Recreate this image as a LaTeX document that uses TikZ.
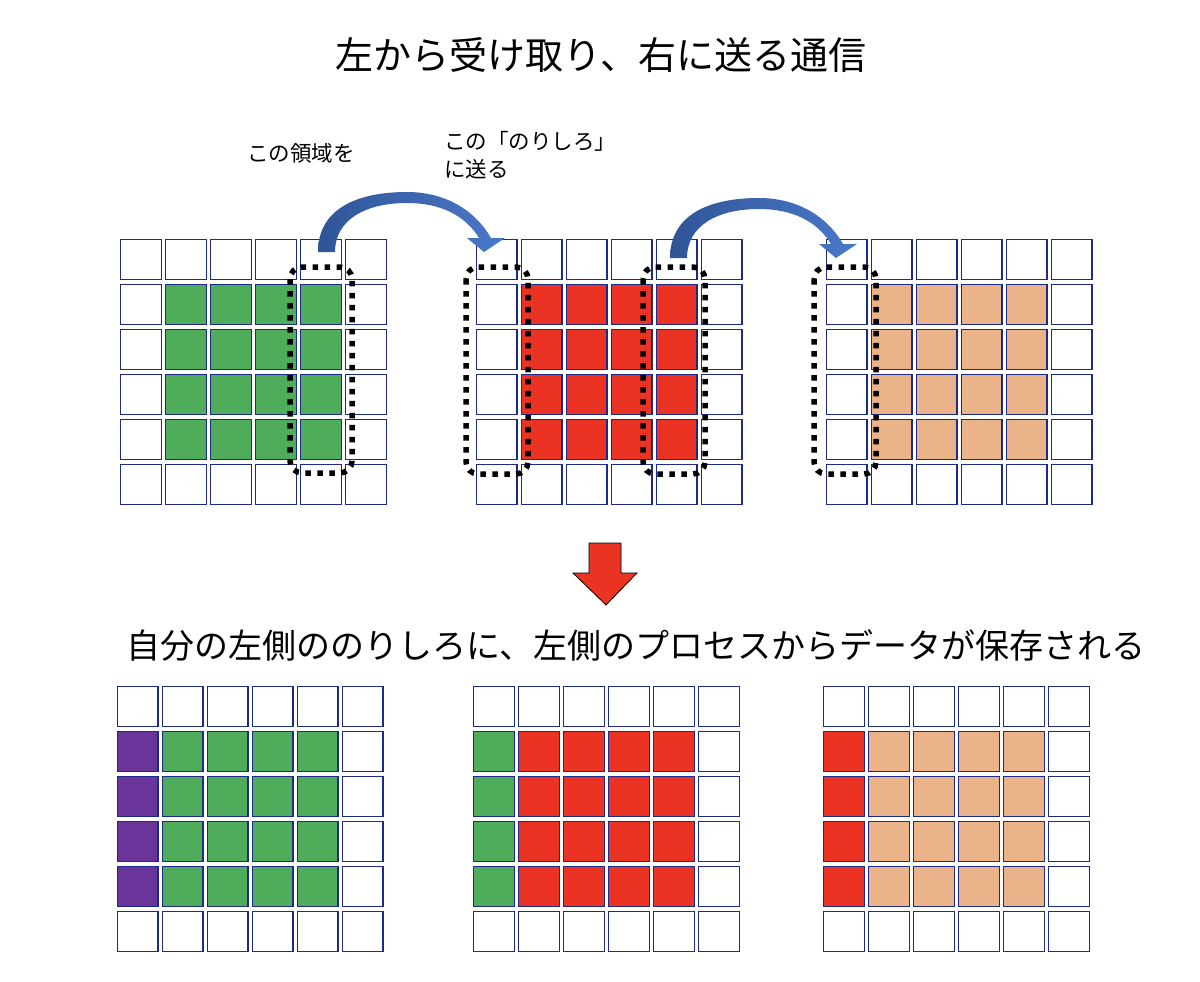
\documentclass[tikz,border=0pt]{standalone}
\usepackage{fontspec}
\setmainfont{Noto Sans CJK JP}
\definecolor{cgreen}{HTML}{4EAC5B}
\definecolor{cred}{HTML}{EA3323}
\definecolor{ctan}{HTML}{EBB38A}
\definecolor{cpurple}{HTML}{6A359A}
\definecolor{cnavy}{HTML}{1B2A8C}
\definecolor{arrowblue}{HTML}{4A78C8}
\definecolor{arrowdark}{HTML}{2F5597}
\tikzset{
  cell/.style={rectangle, draw=cnavy, line width=1.4pt, minimum width=40.5pt, minimum height=40pt, inner sep=0pt, anchor=north west},
  dotbox/.style={draw=black, line width=5.5pt, dash pattern=on 5.5pt off 6.5pt, rounded corners=12pt},
  bigarrow/.style={left color=arrowdark, right color=arrowblue},
  downarrow/.style={fill=cred, draw=black, line width=0.8pt},
  lbl/.style={inner sep=0pt}
}
\begin{document}
\begin{tikzpicture}[x=1pt,y=-1pt]
\useasboundingbox (0,0) rectangle (1200,982);
% titles
\node[lbl, font=\fontsize{38}{44}\selectfont] (title) at (601,55) {左から受け取り、右に送る通信};
\node[lbl, font=\fontsize{34}{40}\selectfont] (mid) at (636,645) {自分の左側ののりしろに、左側のプロセスからデータが保存される};
\node[lbl, anchor=west, font=\fontsize{21.5}{28}\selectfont] (lab1) at (247,153) {この領域を};
\node[lbl, anchor=north west, align=left, font=\fontsize{21.5}{28}\selectfont] (lab2) at (444,131) {この「のりしろ」\\に送る};
% grids
\foreach \gname/\gx/\gy/\lc/\mc in {A/119.3/238/white/cgreen, B/475/238/white/cred, C/825/238/white/ctan, D/116/685/cpurple/cgreen, E/472.3/685/cgreen/cred, F/822.3/685/cred/ctan}{
  \foreach \r in {0,...,5}{
    \foreach \c in {0,...,5}{
      \def\cc{white}
      \ifnum\r>0 \ifnum\r<5
        \ifnum\c=0 \def\cc{\lc}\fi
        \ifnum\c>0 \ifnum\c<5 \def\cc{\mc}\fi\fi
      \fi\fi
      \node[cell, fill=\cc] (\gname-\r-\c) at (\gx+0.7+\c*45, \gy+0.7+\r*45) {};
    }
  }
}
% dotted halo regions
\draw[dotbox] (290,267) rectangle (352,473);
\draw[dotbox] (466,267) rectangle (528,474);
\draw[dotbox] (643,267) rectangle (705,474);
\draw[dotbox] (814,267) rectangle (876,474);
% curved arrows
\foreach \sx/\sy in {0/0, 352/6}{
\shade[bigarrow, shift={(\sx,\sy)}] (318,252) .. controls (318,210) and (355,192) .. (407,192)
  .. controls (445,192) and (475,210) .. (491,238)
  -- (505,238) -- (484,252) -- (467,238) -- (479,238)
  .. controls (465,215) and (440,203) .. (407,203)
  .. controls (365,203) and (335,220) .. (335,252) -- cycle;
}
% down arrow
\draw[downarrow] (589,543) -- (621,543) -- (621,573) -- (637,573) -- (606,605) -- (573,573) -- (589,573) -- cycle;
\end{tikzpicture}
\end{document}
